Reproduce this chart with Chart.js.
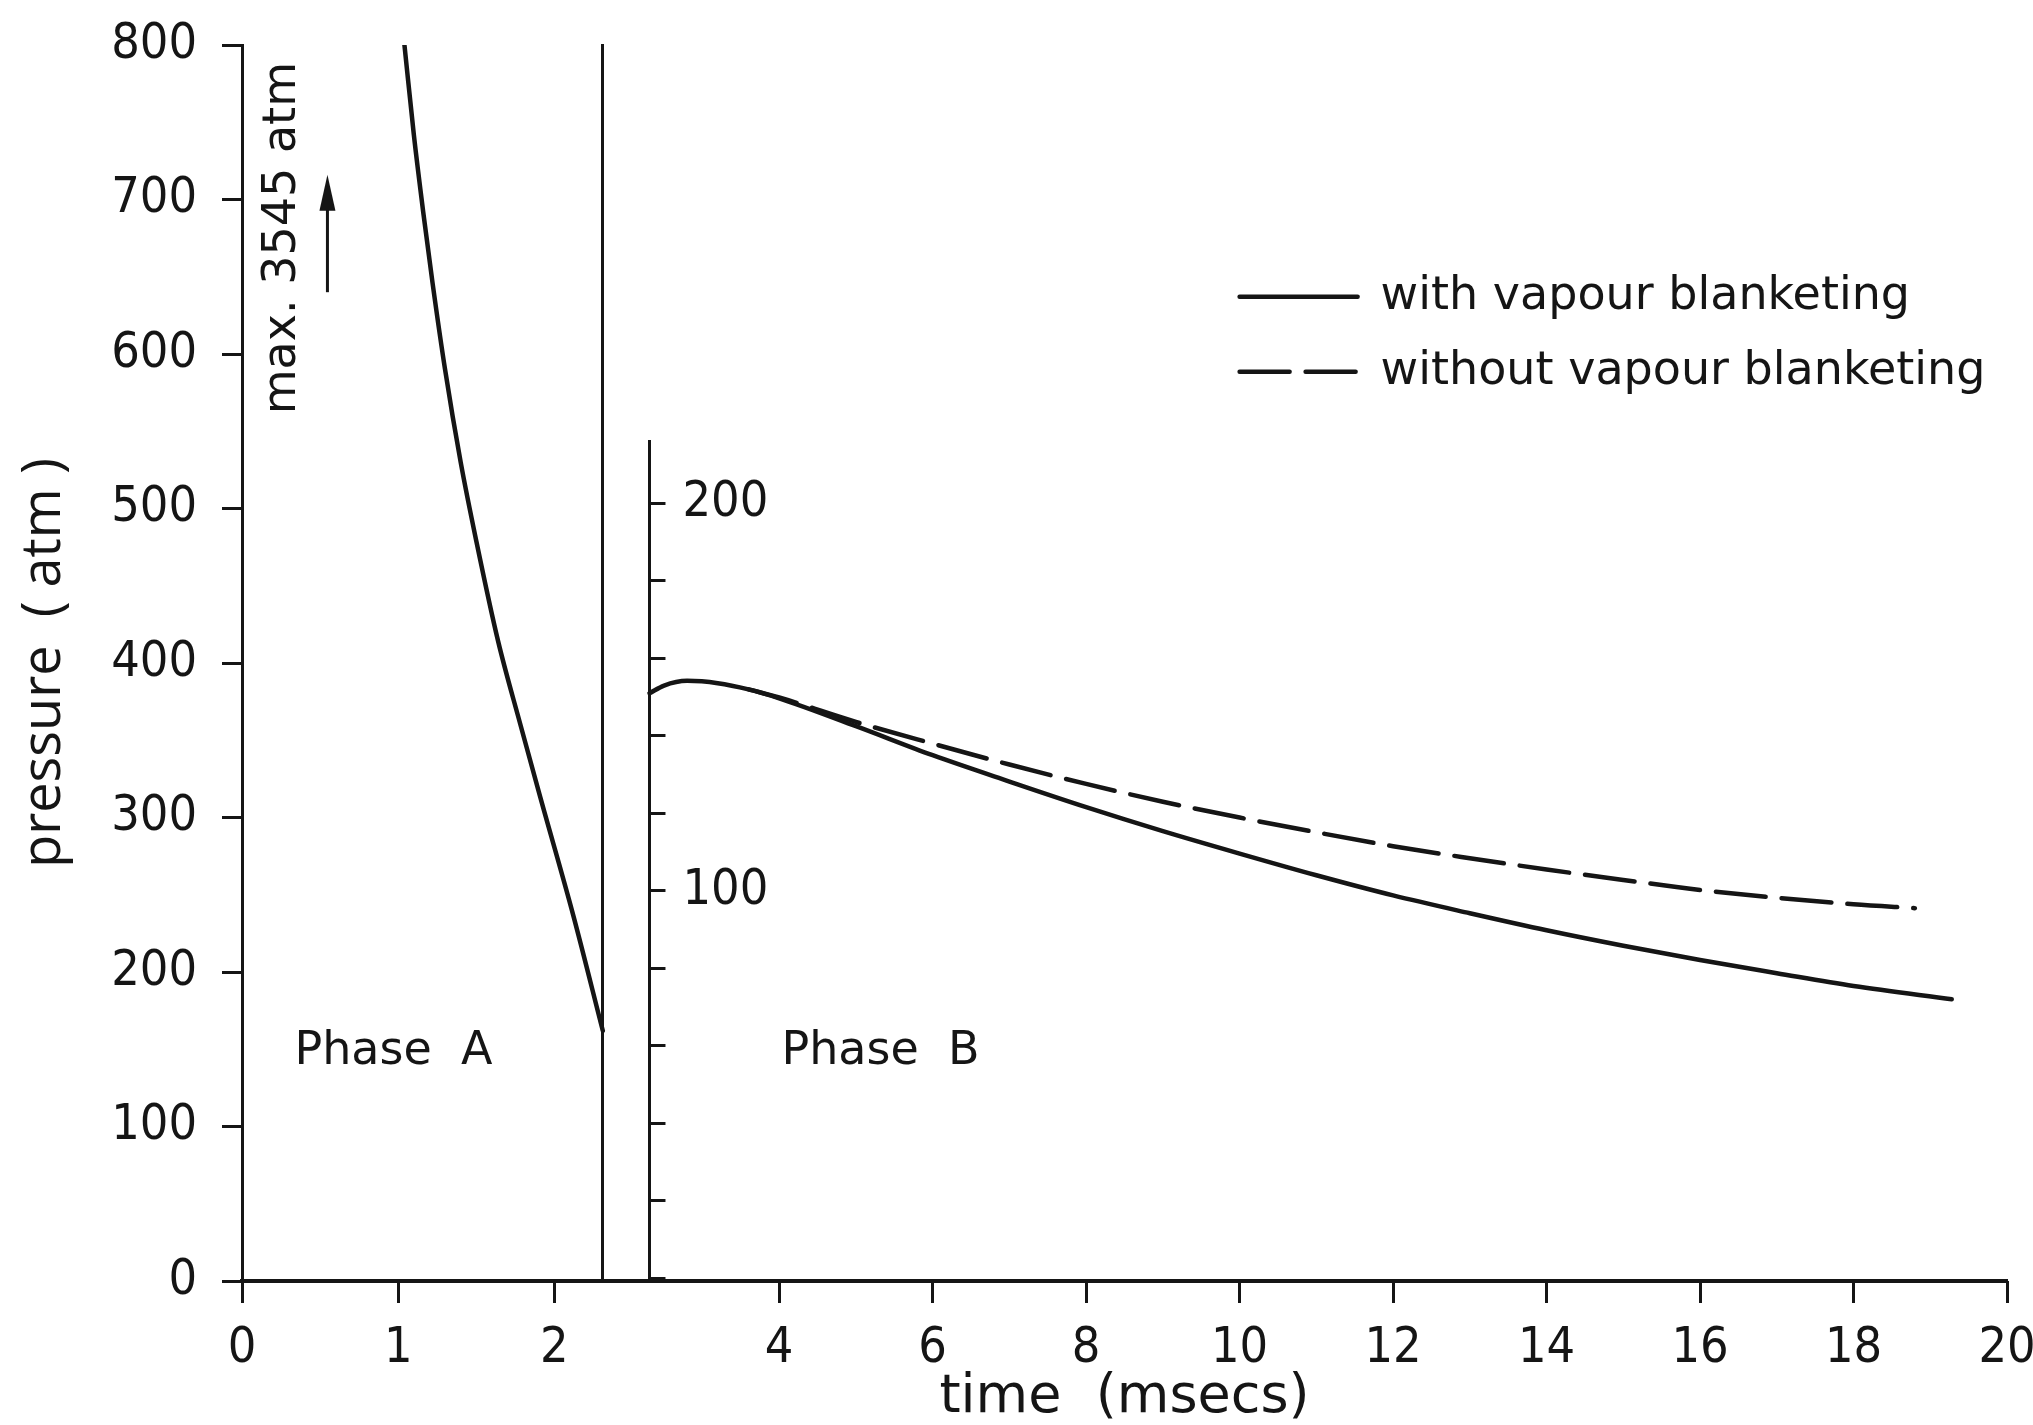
<!DOCTYPE html>
<html lang="en">
<head>
<meta charset="utf-8">
<title>Pressure pulse</title>
<script src="https://cdn.jsdelivr.net/npm/chart.js@4.4.1/dist/chart.umd.min.js"></script>
<style>
  body { margin: 0; background: #fff; }
  canvas { display: block; }
</style>
</head>
<body>
<canvas id="pressureChart" width="2033" height="1425"></canvas>
<script>
// ----------------------------
// DATA

// phase A: time (ms) and pressure on the left scale (atm)
const phaseATime = [1.04, 1.10, 1.16, 1.22, 1.30, 1.40, 1.50, 1.64, 1.78, 1.91, 2.12, 2.31];
const phaseAPressure = [800, 742, 692, 646, 590, 530, 479, 414, 361, 313, 237, 162];

// phase B: pressure read on the inner 0-200 atm scale
const withTime = [2.31, 2.5, 2.8, 3.2, 3.6, 4, 5, 6, 7, 8, 9, 10, 11, 12, 13, 14, 15, 16, 17, 18, 19.28];
const withPressure = [151.0, 153.0, 154.2, 153.6, 152.0, 149.7, 142.5, 135.0, 128.2, 121.6, 115.4, 109.6, 104.0, 98.8, 94.2, 89.8, 85.8, 82.1, 78.7, 75.4, 72.0];

const withoutTime = [3.6, 4, 5, 6, 7, 8, 9, 10, 11, 12, 13, 14, 15, 16, 17, 18, 18.8];
const withoutPressure = [152.0, 149.9, 143.6, 138.0, 132.6, 127.6, 123.0, 118.9, 115.1, 111.5, 108.4, 105.5, 102.8, 100.2, 98.2, 96.5, 95.5];

const seriesNames = ['with vapour blanketing', 'without vapour blanketing'];

// axes
const phaseEnd = 2.31;                       // ms, phase A ends / phase B starts
const ticksA = [0, 1, 2];
const ticksB = [4, 6, 8, 10, 12, 14, 16, 18, 20];
const pressureTicks = [0, 100, 200, 300, 400, 500, 600, 700, 800];
const innerTicks = [0, 20, 40, 60, 80, 100, 120, 140, 160, 180, 200];
const innerLabels = [100, 200];
const innerTop = 216;

// ----------------------------
// STYLE
const INK = '#151515';
const FONT_TXT = "'DejaVu Sans', sans-serif";
const FONT_NUM = "'DejaVu Sans Condensed', 'DejaVu Sans', sans-serif";

const zip = (xs, ys) => xs.map((x, i) => ({ x, y: ys[i] }));

function fixTicks(values) {
    return scale => { scale.ticks = values.map(v => ({ value: v })); };
}
function noSidePadding(scale) {
    scale.paddingLeft = 0;
    scale.paddingRight = 0;
    scale.paddingTop = 0;
    scale.paddingBottom = 0;
}

const tickFont = { family: FONT_NUM, size: 50 };

// inner axis and legend sit inside the plot, moved there once layout is done
const placeInside = {
    id: 'placeInside',
    afterLayout(chart) {
        const { xB, yB, y } = chart.scales;
        const px = xB.getPixelForValue(phaseEnd);
        yB.left = px;
        yB.right = px + 200;          // room for the labels (they are clipped to the box)
        yB.top = yB.getPixelForValue(innerTop);

        const lg = chart.legend;
        const pad = lg.options.labels.padding;
        const fs = lg.options.labels.font.size;
        lg.left = xB.getPixelForValue(10) - pad;
        lg.top = y.getPixelForValue(637) - fs / 2 - pad;
    }
};

// phase names, the off-scale maximum and its arrow
const notes = {
    id: 'notes',
    afterDraw(chart) {
        const { ctx } = chart;
        const { xA, xB, y } = chart.scales;
        ctx.save();
        ctx.fillStyle = INK;
        ctx.strokeStyle = INK;
        ctx.textAlign = 'center';
        ctx.textBaseline = 'middle';
        ctx.font = `46px ${FONT_TXT}`;
        ctx.fillText('Phase  A', xA.getPixelForValue(0.97), y.getPixelForValue(148));
        ctx.fillText('Phase  B', xB.getPixelForValue(5.32), y.getPixelForValue(148));

        ctx.save();
        ctx.translate(xA.getPixelForValue(0.264), y.getPixelForValue(675));
        ctx.rotate(-Math.PI / 2);
        ctx.fillText('max. 3545 atm', 0, 0);
        ctx.restore();

        const ax = xA.getPixelForValue(0.547);
        const yTail = y.getPixelForValue(640);
        const yTip = y.getPixelForValue(716);
        ctx.lineWidth = 3;
        ctx.beginPath();
        ctx.moveTo(ax, yTail);
        ctx.lineTo(ax, yTip + 20);
        ctx.stroke();
        ctx.beginPath();
        ctx.moveTo(ax, yTip);
        ctx.lineTo(ax - 8, yTip + 36);
        ctx.lineTo(ax + 8, yTip + 36);
        ctx.closePath();
        ctx.fill();
        ctx.restore();
    }
};

const lineStyle = {
    borderColor: INK,
    backgroundColor: INK,
    borderWidth: 4.5,
    pointRadius: 0,
    fill: false,
    cubicInterpolationMode: 'monotone',
    borderCapStyle: 'round'
};

// legend entries take their stroke from the dataset line, not from the points
function lineLabels(chart) {
    return Chart.defaults.plugins.legend.labels.generateLabels(chart).map(item => {
        const ds = chart.data.datasets[item.datasetIndex];
        return {
            ...item,
            lineDash: ds.borderDash || [],
            lineWidth: ds.borderWidth,
            lineCap: ds.borderCapStyle,
            strokeStyle: ds.borderColor
        };
    });
}

const ctx = document.getElementById('pressureChart').getContext('2d');
const pressureChart = new Chart(ctx, {
    type: 'line',
    data: {
        datasets: [
            { ...lineStyle, label: seriesNames[0], data: zip(withTime, withPressure), xAxisID: 'xB', yAxisID: 'yB' },
            { ...lineStyle, label: seriesNames[1], data: zip(withoutTime, withoutPressure), xAxisID: 'xB', yAxisID: 'yB', borderDash: [50, 16] },
            { ...lineStyle, label: 'phase A', data: zip(phaseATime, phaseAPressure), xAxisID: 'xA', yAxisID: 'y' }
        ]
    },
    options: {
        responsive: false,
        animation: false,
        devicePixelRatio: 1,
        events: [],
        layout: { padding: { left: 0, right: 26, top: 45, bottom: 0 } },
        plugins: {
            tooltip: { enabled: false },
            legend: {
                position: 'chartArea',
                align: 'start',
                labels: {
                    generateLabels: lineLabels,
                    filter: item => item.datasetIndex < 2,
                    usePointStyle: true,
                    pointStyle: 'line',
                    pointStyleWidth: 118,
                    padding: 29,
                    color: INK,
                    font: { family: FONT_TXT, size: 46 }
                }
            }
        },
        scales: {
            xA: {
                type: 'linear',
                position: 'bottom',
                min: 0,
                max: 11.3,
                afterBuildTicks: fixTicks(ticksA),
                afterFit: scale => { noSidePadding(scale); scale.height = 144; },
                grid: { drawOnChartArea: false, color: INK, tickLength: 22, tickWidth: 3 },
                border: { color: INK, width: 4 },
                ticks: { color: INK, font: tickFont, padding: 16, maxRotation: 0 },
                title: {
                    display: true,
                    text: 'time  (msecs)',
                    color: INK,
                    font: { family: FONT_TXT, size: 54, lineHeight: 1 },
                    padding: { top: 0, bottom: 0 }
                }
            },
            xB: {
                type: 'linear',
                position: { y: 0 },
                min: -3,
                max: 20,
                afterBuildTicks: fixTicks(ticksB),
                afterFit: noSidePadding,
                grid: { drawOnChartArea: false, color: INK, tickLength: 22, tickWidth: 3 },
                border: { display: false },
                ticks: { color: INK, font: tickFont, padding: 16, maxRotation: 0 }
            },
            y: {
                type: 'linear',
                position: 'left',
                min: 0,
                max: 800,
                afterBuildTicks: fixTicks(pressureTicks),
                afterFit: scale => { noSidePadding(scale); scale.width = 242; },
                grid: { drawOnChartArea: false, color: INK, tickLength: 20, tickWidth: 3 },
                border: { color: INK, width: 3 },
                ticks: { color: INK, font: tickFont, padding: 25 },
                title: {
                    display: true,
                    text: 'pressure  ( atm )',
                    color: INK,
                    font: { family: "'Open Sans', sans-serif", size: 54 },
                    padding: { top: 12, bottom: 0 }
                }
            },
            yB: {
                type: 'linear',
                position: 'right',
                min: -0.77,
                max: 318.4,
                afterBuildTicks: fixTicks(innerTicks),
                afterFit: scale => { noSidePadding(scale); scale.width = 0; },
                grid: { drawOnChartArea: false, color: INK, tickLength: 16, tickWidth: 3 },
                border: { color: INK, width: 3 },
                ticks: {
                    color: INK,
                    font: tickFont,
                    padding: 17,
                    callback: v => innerLabels.includes(v) ? String(v) : ''
                }
            },
            // boundary of phase A, full height
            yEdge: {
                type: 'linear',
                position: { xA: phaseEnd },
                afterFit: noSidePadding,
                grid: { drawOnChartArea: false, drawTicks: false },
                ticks: { display: false },
                border: { color: INK, width: 3 }
            }
        }
    },
    plugins: [placeInside, notes]
});
</script>
</body>
</html>
